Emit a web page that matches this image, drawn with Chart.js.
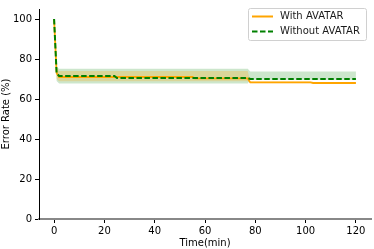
<!DOCTYPE html>
<html>
<head>
<meta charset="utf-8">
<script src="https://cdn.jsdelivr.net/npm/chart.js@4"></script>
<style>
html,body{margin:0;padding:0;background:#fff;}
#wrap{width:374px;height:249px;position:relative;}
</style>
</head>
<body>
<div id="wrap"><canvas id="c" width="374" height="249"></canvas></div>
<script>
const times       = [0, 1, 2, 24, 25, 55, 56, 77, 78, 102, 103, 120];
const withVals    = [100, 73, 71.0, 71.0, 71.0, 71.0, 70.3, 70.3, 68.3, 68.3, 68.0, 68.0];
const withLow     = [100, 70, 68.9, 68.9, 68.9, 68.9, 68.9, 68.9, 67.9, 67.9, 67.8, 67.8];
const withHigh    = [100, 75, 74.0, 74.0, 74.0, 74.0, 74.0, 74.0, 68.7, 68.7, 68.2, 68.2];
const withoutVals = [100, 73, 71.5, 71.5, 70.5, 70.5, 70.5, 70.5, 70.0, 70.0, 70.0, 70.0];
const withoutLow  = [100, 69, 67.8, 67.8, 67.8, 67.8, 67.8, 67.8, 69.6, 69.6, 69.6, 69.6];
const withoutHigh = [100, 76, 75.1, 75.1, 75.1, 75.1, 75.1, 75.1, 73.8, 73.8, 73.8, 73.8];
const seriesLabels = ['With AVATAR', 'Without AVATAR'];
const xTicks = [0, 20, 40, 60, 80, 100, 120];
const yTicks = [0, 20, 40, 60, 80, 100];

const pts = arr => times.map((t, i) => ({x: t, y: arr[i]}));
const FONT = 'DejaVu Sans';

const legendPlugin = {
  id: 'boxLegend',
  afterDraw(chart) {
    const ctx = chart.ctx;
    const x = 248, y = 8, w = 118, h = 32;
    ctx.save();
    ctx.beginPath();
    if (ctx.roundRect) ctx.roundRect(x + 0.5, y + 0.5, w, h, 2); else ctx.rect(x + 0.5, y + 0.5, w, h);
    ctx.fillStyle = 'rgba(255,255,255,0.85)';
    ctx.fill();
    ctx.strokeStyle = '#d0d0d0';
    ctx.lineWidth = 1;
    ctx.stroke();
    const items = [
      {label: seriesLabels[0], color: '#FFA500', dash: []},
      {label: seriesLabels[1], color: '#008000', dash: [5.5, 2.5]}
    ];
    items.forEach((it, i) => {
      const cy = 16.5 + i * 15;
      ctx.beginPath();
      ctx.setLineDash(it.dash);
      ctx.strokeStyle = it.color;
      ctx.lineWidth = 2;
      ctx.moveTo(252, cy);
      ctx.lineTo(273, cy);
      ctx.stroke();
      ctx.setLineDash([]);
      ctx.fillStyle = '#1a1a1a';
      ctx.font = '10px "' + FONT + '"';
      ctx.textBaseline = 'middle';
      ctx.textAlign = 'left';
      ctx.fillText(it.label, 280, cy);
    });
    ctx.restore();
  }
};

new Chart(document.getElementById('c'), {
  type: 'line',
  data: {
    datasets: [
      {label: 'withoutLow', data: pts(withoutLow), borderWidth: 0, pointRadius: 0, fill: false, order: 5},
      {label: 'withoutHigh', data: pts(withoutHigh), borderWidth: 0, pointRadius: 0, fill: '-1', backgroundColor: 'rgba(0,128,0,0.2)', order: 5},
      {label: 'withLow', data: pts(withLow), borderWidth: 0, pointRadius: 0, fill: false, order: 4},
      {label: 'withHigh', data: pts(withHigh), borderWidth: 0, pointRadius: 0, fill: '-1', backgroundColor: 'rgba(255,165,0,0.25)', order: 4},
      {label: seriesLabels[0], data: pts(withVals), borderColor: '#FFA500', borderWidth: 1.8, pointRadius: 0, fill: false, tension: 0, order: 2},
      {label: seriesLabels[1], data: pts(withoutVals), borderColor: '#008000', borderWidth: 2, borderDash: [5.5, 2.5], pointRadius: 0, fill: false, tension: 0, order: 1}
    ]
  },
  options: {
    responsive: false,
    animation: false,
    devicePixelRatio: 1,
    layout: {padding: {top: 3, right: 3, left: 0, bottom: 0}},
    plugins: {legend: {display: false}, tooltip: {enabled: false}},
    scales: {
      x: {
        type: 'linear', min: -6, max: 126,
        afterBuildTicks: s => { s.ticks = xTicks.map(v => ({value: v})); },
        afterFit: s => { s.height = 30; },
        grid: {display: true, drawOnChartArea: false, drawTicks: true, tickLength: 4, color: '#000'},
        border: {display: true, color: '#888', width: 2},
        ticks: {color: '#000', font: {family: FONT, size: 10}, padding: 2, maxRotation: 0},
        title: {display: true, text: 'Time(min)', color: '#000', font: {family: FONT, size: 10}, padding: {top: 0, bottom: 0}}
      },
      y: {
        type: 'linear', min: 0, max: 105,
        afterBuildTicks: s => { s.ticks = yTicks.map(v => ({value: v})); },
        afterFit: s => { s.width = 39; },
        grid: {display: true, drawOnChartArea: false, drawTicks: true, tickLength: 4, color: '#000'},
        border: {display: true, color: '#000', width: 1},
        ticks: {color: '#000', font: {family: FONT, size: 10}, padding: 3},
        title: {display: true, text: 'Error Rate (%)', color: '#000', font: {family: FONT, size: 10}, padding: {top: 0, bottom: 0}}
      }
    }
  },
  plugins: [legendPlugin]
});
</script>
</body>
</html>
